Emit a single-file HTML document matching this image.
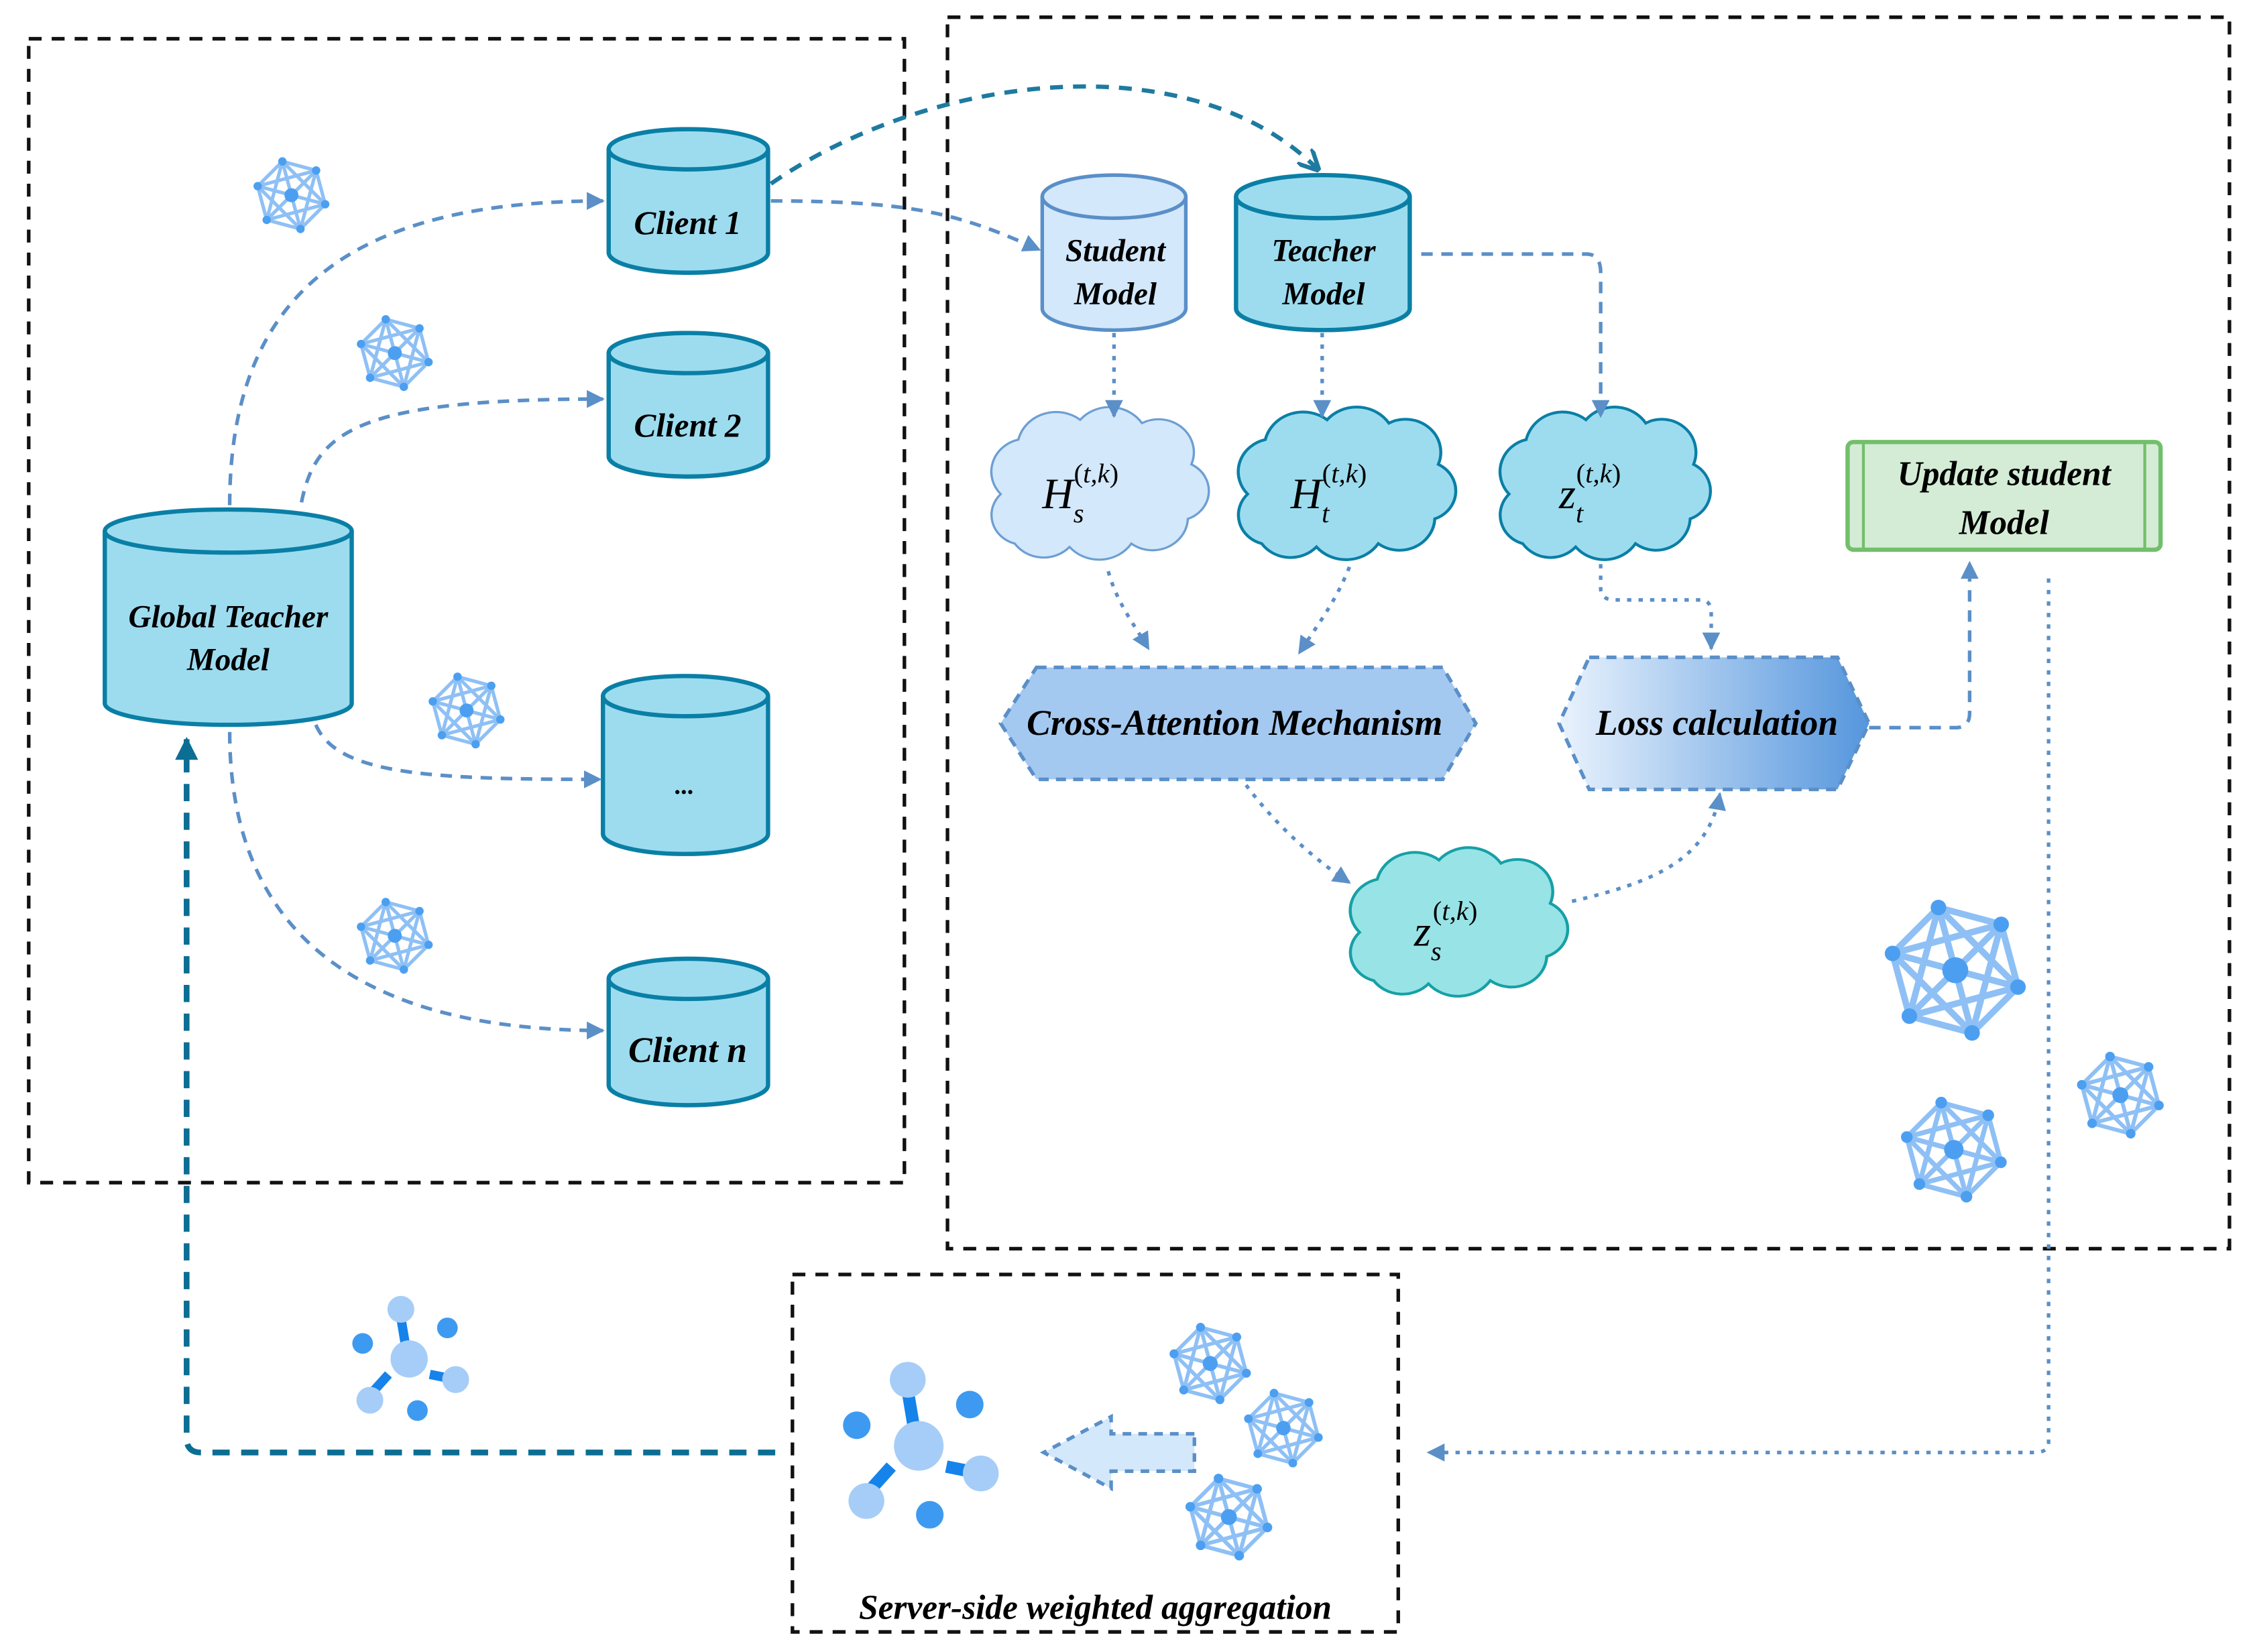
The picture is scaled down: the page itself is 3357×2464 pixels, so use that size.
<!DOCTYPE html>
<html><head><meta charset="utf-8"><style>html,body{margin:0;padding:0;background:#fff}svg{display:block}</style></head>
<body>
<svg xmlns="http://www.w3.org/2000/svg" width="3357" height="2464" viewBox="0 0 1568 1151" preserveAspectRatio="none" font-family="'Liberation Serif',serif">
<defs>
<symbol id="mesh" viewBox="-1.15 -1.15 2.3 2.3">
<path d="M0.966,0.259 L0.259,0.966 L-0.707,0.707 L-0.966,-0.259 L-0.259,-0.966 L0.707,-0.707 Z M0.966,0.259 L-0.707,0.707 M0.966,0.259 L-0.966,-0.259 M0.966,0.259 L-0.259,-0.966 M0.259,0.966 L-0.966,-0.259 M0.259,0.966 L-0.259,-0.966 M0.259,0.966 L0.707,-0.707 M-0.707,0.707 L-0.259,-0.966 M-0.707,0.707 L0.707,-0.707 M-0.966,-0.259 L0.707,-0.707 M0,0 L0.966,0.259 M0,0 L0.259,0.966 M0,0 L-0.707,0.707 M0,0 L-0.966,-0.259 M0,0 L-0.259,-0.966 M0,0 L0.707,-0.707" stroke="#8ec0f5" stroke-width="0.1" fill="none"/>
<g fill="#4c9ff0"><circle cx="0.966" cy="0.259" r="0.12"/><circle cx="0.259" cy="0.966" r="0.12"/><circle cx="-0.707" cy="0.707" r="0.12"/><circle cx="-0.966" cy="-0.259" r="0.12"/><circle cx="-0.259" cy="-0.966" r="0.12"/><circle cx="0.707" cy="-0.707" r="0.12"/><circle cx="0" cy="0" r="0.2"/></g>
</symbol>
<symbol id="mol" viewBox="-60 -65 120 125">
<path d="M-3,-10 L-8,-40 M20,15 L45,20 M-20,15 L-38,35" stroke="#1583ea" stroke-width="9"/>
<circle cx="0" cy="0" r="18" fill="#a6cdf7"/>
<circle cx="-8" cy="-48" r="13" fill="#a6cdf7"/>
<circle cx="45" cy="20" r="13" fill="#a6cdf7"/>
<circle cx="-38" cy="40" r="13" fill="#a6cdf7"/>
<circle cx="-45" cy="-15" r="10" fill="#3e9af0"/>
<circle cx="37" cy="-30" r="10" fill="#3e9af0"/>
<circle cx="8" cy="50" r="10" fill="#3e9af0"/>
</symbol>
<path id="cloud" d="M30,85 a18,18 0 0 1 -8,-30 a20,20 0 0 1 10,-33 a22,22 0 0 1 35,-12 a22,22 0 0 1 35,2 a20,20 0 0 1 28,25 a18,18 0 0 1 -2,33 a20,20 0 0 1 -32,15 a22,22 0 0 1 -35,2 a20,20 0 0 1 -31,-2 z"/>
<marker id="ar" viewBox="0 0 10 10" refX="9" refY="5" markerWidth="5" markerHeight="5" orient="auto"><path d="M0,0 L10,5 L0,10 z" fill="#5b8fc7"/></marker>
<marker id="ar2" viewBox="0 0 10 10" refX="9" refY="5" markerWidth="5" markerHeight="5" orient="auto"><path d="M0,0 L10,5 L0,10" fill="none" stroke="#1e7aa0" stroke-width="2"/></marker>
<marker id="ar3" viewBox="0 0 10 10" refX="9" refY="5" markerWidth="4" markerHeight="4" orient="auto"><path d="M0,0 L10,5 L0,10 z" fill="#0c6e93"/></marker>
<linearGradient id="gl" x1="0" x2="1"><stop offset="0" stop-color="#eaf3fd"/><stop offset="1" stop-color="#5596dd"/></linearGradient>
</defs>

<g fill="none" stroke="#111" stroke-width="2.5" stroke-dasharray="9,7">
<rect x="20" y="27" width="610" height="797"/>
<rect x="660" y="12" width="893" height="858"/>
<rect x="552" y="888" width="422" height="249"/>
</g>

<g stroke="#0a7fa6" stroke-width="3" fill="#9ddcef">
<path d="M424,104 v72 a55.5,14 0 0 0 111,0 v-72"/><ellipse cx="479.5" cy="104" rx="55.5" ry="14"/>
<path d="M424,246 v72 a55.5,14 0 0 0 111,0 v-72"/><ellipse cx="479.5" cy="246" rx="55.5" ry="14"/>
<path d="M420,485 v96 a57.5,14 0 0 0 115,0 v-96"/><ellipse cx="477.5" cy="485" rx="57.5" ry="14"/>
<path d="M424,682 v74 a55.5,14 0 0 0 111,0 v-74"/><ellipse cx="479.5" cy="682" rx="55.5" ry="14"/>
<path d="M73,370 v120 a86,15 0 0 0 172,0 v-120"/><ellipse cx="159" cy="370" rx="86" ry="15"/>
<path d="M861,137 v78 a60.5,15 0 0 0 121,0 v-78"/><ellipse cx="921.5" cy="137" rx="60.5" ry="15"/>
</g>
<g stroke="#5a8fc8" stroke-width="2.5" fill="#d3e8fb">
<path d="M726,137 v78 a50,15 0 0 0 100,0 v-78"/><ellipse cx="776" cy="137" rx="50" ry="15"/>
</g>

<use href="#cloud" transform="translate(670,281) scale(1.23,1.15)" fill="#d3e8fb" stroke="#6d9fd2" stroke-width="1.3"/>
<use href="#cloud" transform="translate(842,281) scale(1.23,1.15)" fill="#9ddcef" stroke="#0a7fa6" stroke-width="1.7"/>
<use href="#cloud" transform="translate(1025,281) scale(1.19,1.15)" fill="#9ddcef" stroke="#0a7fa6" stroke-width="1.7"/>
<use href="#cloud" transform="translate(920,588) scale(1.23,1.12)" fill="#98e3e6" stroke="#16a0a6" stroke-width="1.7"/>

<path d="M722,465 H1005 L1028,504 L1005,543 H722 L697,504 Z" fill="#a4c9f1" stroke="#5a8fc8" stroke-width="2.5" stroke-dasharray="7,5"/>
<path d="M1107,458 H1280 L1302,504 L1280,550 H1107 L1086,504 Z" fill="url(#gl)" stroke="#5a8fc8" stroke-width="2.5" stroke-dasharray="7,5"/>

<rect x="1287" y="308" width="218" height="75" rx="4" fill="#d4ecd5" stroke="#72bf6b" stroke-width="3"/>
<path d="M1298,309 V382 M1494,309 V382" stroke="#72bf6b" stroke-width="2"/>

<g fill="none" stroke="#5b8fc7" stroke-width="2.5" stroke-dasharray="8,6" marker-end="url(#ar)">
<path d="M160,352 C160,200 250,140 420,140"/>
<path d="M210,350 C220,300 250,278 420,278"/>
<path d="M220,505 C235,540 300,543 418,543"/>
<path d="M160,510 C160,650 250,718 420,718"/>
<path d="M537,140 C640,140 670,150 724,174"/>
<path d="M990,177 H1105 Q1115,177 1115,190 V290"/>
<path d="M1302,507 H1362 Q1372,507 1372,497 V392"/>
</g>
<path d="M537,128 C650,50 830,30 918,118" fill="none" stroke="#1e7aa0" stroke-width="3" stroke-dasharray="9,7" marker-end="url(#ar2)"/>

<g fill="none" stroke="#5b8fc7" stroke-width="2.5" stroke-dasharray="3,5" marker-end="url(#ar)">
<path d="M776,232 V290"/>
<path d="M921,232 V290"/>
<path d="M772,398 C778,420 790,435 800,452"/>
<path d="M940,395 C930,420 918,435 905,455"/>
<path d="M1115,393 V410 Q1115,418 1125,418 H1185 Q1192,418 1192,428 V452"/>
<path d="M868,547 C885,570 910,595 940,615"/>
<path d="M1095,628 C1150,615 1190,600 1198,553"/>
<path d="M1427,403 V1005 Q1427,1012 1417,1012 H995"/>
</g>

<path d="M540,1012 H140 Q130,1012 130,1002 V515" fill="none" stroke="#0c6e93" stroke-width="4" stroke-dasharray="12,8" marker-end="url(#ar3)"/>

<path d="M832,999 H774 V987 L727,1012 L774,1037 V1025 H832 Z" fill="#d3e8fb" stroke="#5a8fc8" stroke-width="2.5" stroke-dasharray="6,5"/>

<use href="#mesh" x="175" y="108" width="56" height="56"/>
<use href="#mesh" x="247" y="218" width="56" height="56"/>
<use href="#mesh" x="297" y="467" width="56" height="56"/>
<use href="#mesh" x="247" y="624" width="56" height="56"/>
<use href="#mesh" x="1310" y="624" width="104" height="104"/>
<use href="#mesh" x="1322" y="762" width="78" height="78"/>
<use href="#mesh" x="1445" y="731" width="64" height="64"/>
<use href="#mesh" x="813" y="920" width="60" height="60"/>
<use href="#mesh" x="865" y="966" width="58" height="58"/>
<use href="#mesh" x="824" y="1025" width="64" height="64"/>
<use href="#mol" x="240" y="900" width="90" height="90"/>
<use href="#mol" x="580" y="945" width="120" height="120"/>

<g font-style="italic" font-weight="bold" fill="#000" text-anchor="middle" font-size="23">
<text x="479" y="163">Client 1</text>
<text x="479" y="304">Client 2</text>
<text x="477" y="553" font-size="18">...</text>
<text x="479" y="740" font-size="25">Client n</text>
<text x="159" y="437" font-size="22">Global Teacher</text>
<text x="159" y="467" font-size="22">Model</text>
<text x="777" y="182" font-size="22">Student</text>
<text x="777" y="212" font-size="22">Model</text>
<text x="922" y="182" font-size="22">Teacher</text>
<text x="922" y="212" font-size="22">Model</text>
<text x="860" y="512" font-size="25">Cross-Attention Mechanism</text>
<text x="1196" y="512" font-size="25">Loss calculation</text>
<text x="1396" y="338" font-size="24">Update student</text>
<text x="1396" y="372" font-size="24">Model</text>
<text x="763" y="1128" font-size="24">Server-side weighted aggregation</text>
</g>
<g font-style="italic" fill="#000" font-size="30">
<text x="726" y="354">H<tspan font-size="19" dy="10">s</tspan><tspan font-size="19" dx="-7" dy="-28" font-style="normal">(</tspan><tspan font-size="19">t,k</tspan><tspan font-size="19" font-style="normal">)</tspan></text>
<text x="899" y="354">H<tspan font-size="19" dy="10">t</tspan><tspan font-size="19" dx="-5" dy="-28" font-style="normal">(</tspan><tspan font-size="19">t,k</tspan><tspan font-size="19" font-style="normal">)</tspan></text>
<text x="1086" y="354">z<tspan font-size="19" dy="10">t</tspan><tspan font-size="19" dx="-5" dy="-28" font-style="normal">(</tspan><tspan font-size="19">t,k</tspan><tspan font-size="19" font-style="normal">)</tspan></text>
<text x="985" y="659">z<tspan font-size="19" dy="10">s</tspan><tspan font-size="19" dx="-6" dy="-28" font-style="normal">(</tspan><tspan font-size="19">t,k</tspan><tspan font-size="19" font-style="normal">)</tspan></text>
</g>
</svg>
</body></html>
